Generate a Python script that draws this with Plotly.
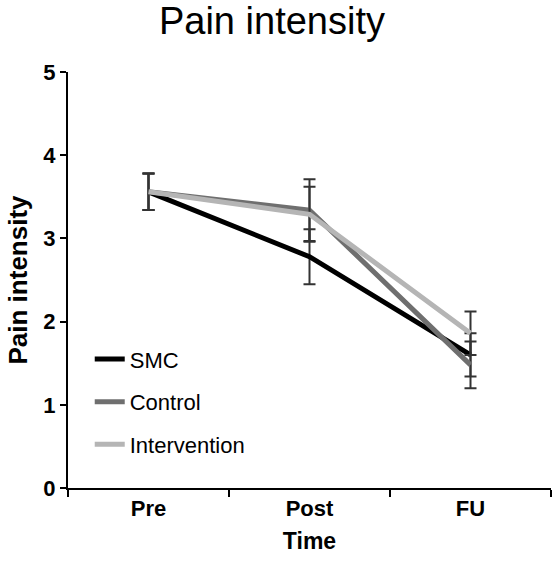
import plotly.graph_objects as go

times = ["Pre", "Post", "FU"]
smc = [3.56, 2.78, 1.60]
smc_err = [0.22, 0.33, 0.26]
control = [3.56, 3.34, 1.48]
control_err = [0.22, 0.37, 0.28]
intervention = [3.56, 3.29, 1.86]
intervention_err = [0.22, 0.33, 0.26]
y_ticks = [0, 1, 2, 3, 4, 5]

series = [
    ("SMC", smc, smc_err, "#000000"),
    ("Control", control, control_err, "#6f6f6f"),
    ("Intervention", intervention, intervention_err, "#b5b5b5"),
]

FONT = "Liberation Sans, Arial, sans-serif"

fig = go.Figure()
for name, vals, err, col in series:
    fig.add_trace(go.Scatter(
        x=times, y=vals, name=name, mode="lines", legendgroup=name,
        line=dict(color=col, width=5),
        error_y=dict(type="data", array=err, visible=True, color="#333333",
                     thickness=2, width=6),
    ))

fig.update_layout(
    width=555, height=562,
    margin=dict(l=68, r=4, t=72, b=74),
    paper_bgcolor="white", plot_bgcolor="white",
    font=dict(family=FONT, color="black"),
    title=dict(text="Pain intensity", font=dict(size=38, family=FONT, color="black"),
               xref="container", x=0.49, xanchor="center",
               yref="container", y=1 - 21 / 562, yanchor="middle"),
    showlegend=True,
    legend=dict(x=0.045, xanchor="left", y=0.36, yanchor="top",
                font=dict(size=22, family=FONT), tracegroupgap=11,
                bgcolor="rgba(0,0,0,0)", itemclick=False),
    xaxis=dict(type="category", tickson="boundaries", ticks="outside", ticklen=7,
               tickwidth=2, tickcolor="black", showline=True, linecolor="black",
               linewidth=2, showgrid=False, range=[-0.5, 2.5],
               tickfont=dict(size=22, family=FONT, weight="bold"),
               title=dict(text="Time", font=dict(size=23, family=FONT, weight="bold"),
                          standoff=12)),
    yaxis=dict(range=[0, 5], tickvals=y_ticks, ticks="outside", ticklen=6,
               tickwidth=2, tickcolor="black", showline=True, linecolor="black",
               linewidth=2, showgrid=False, zeroline=False,
               tickfont=dict(size=22, family=FONT, weight="bold"),
               title=dict(text="Pain intensity", font=dict(size=26, family=FONT, weight="bold"),
                          standoff=8)),
)

fig.write_html("out.html")
